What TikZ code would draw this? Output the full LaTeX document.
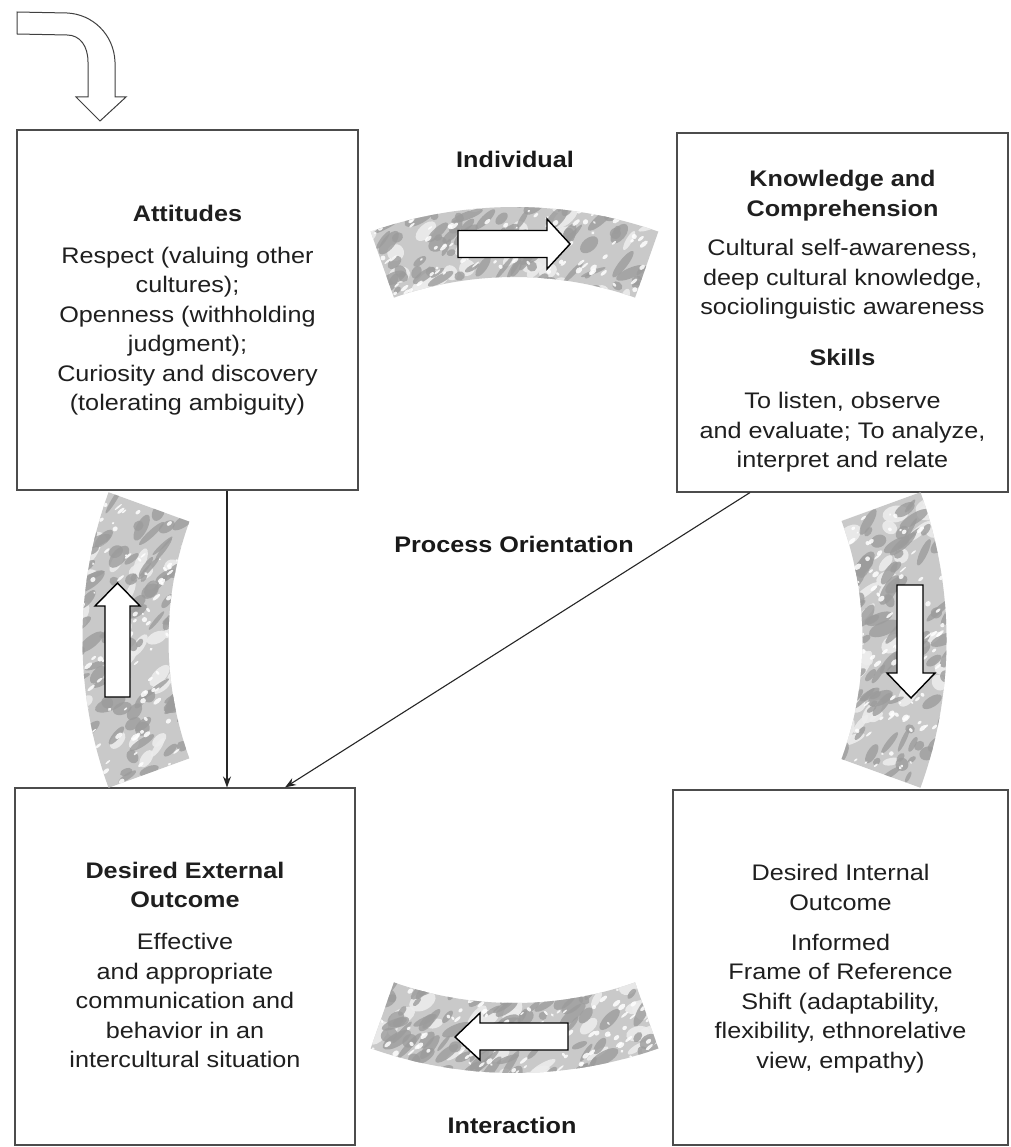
\documentclass[tikz,border=0pt]{standalone}
\usepackage{fontspec}
\setmainfont{Liberation Sans}[FakeStretch=1.12]
\usetikzlibrary{calc,arrows.meta}
\newcommand\mottleband[5]{%
  \begin{scope}
    \clip ($(C)+(#1:#4)$) arc[start angle=#1,end angle=#2,radius=#4]
      -- ($(C)+(#2:#3)$) arc[start angle=#2,end angle=#1,radius=#3] -- cycle;
    \fill[gray!42] (0,0) rectangle (1010,1147);
    \pgfmathsetseed{#5}
    \foreach \k in {1,...,28}{%
      \pgfmathsetmacro\aa{#1+rnd*(#2-#1)}%
      \pgfmathsetmacro\rr{#3-8+rnd*(#4-#3+16)}%
      \pgfmathsetmacro\bx{514.5+\rr*cos(\aa)}%
      \pgfmathsetmacro\by{640+\rr*sin(\aa)}%
      \pgfmathsetmacro\ax{6+rnd*10}%
      \pgfmathsetmacro\ay{3+rnd*6}%
      \pgfmathsetmacro\rot{10+rnd*60}%
      \fill[gray!15, opacity=0.9, rotate around={\rot:(\bx,\by)}] (\bx,\by) ellipse[x radius=\ax, y radius=\ay];
    }
    \foreach \k in {1,...,80}{%
      \pgfmathsetmacro\aa{#1+rnd*(#2-#1)}%
      \pgfmathsetmacro\rr{#3-8+rnd*(#4-#3+16)}%
      \pgfmathsetmacro\bx{514.5+\rr*cos(\aa)}%
      \pgfmathsetmacro\by{640+\rr*sin(\aa)}%
      \pgfmathsetmacro\ax{4+rnd*13}%
      \pgfmathsetmacro\ay{2+rnd*5}%
      \pgfmathsetmacro\rot{20+rnd*45}%
      \fill[gray!78, opacity=0.8, rotate around={\rot:(\bx,\by)}] (\bx,\by) ellipse[x radius=\ax, y radius=\ay];
    }
    \foreach \k in {1,...,90}{%
      \pgfmathsetmacro\aa{#1+rnd*(#2-#1)}%
      \pgfmathsetmacro\rr{#3-4+rnd*(#4-#3+8)}%
      \pgfmathsetmacro\bx{514.5+\rr*cos(\aa)}%
      \pgfmathsetmacro\by{640+\rr*sin(\aa)}%
      \pgfmathsetmacro\ax{1+rnd*4}%
      \pgfmathsetmacro\ay{0.8+rnd*1.8}%
      \fill[white, opacity=0.85, rotate around={40:(\bx,\by)}] (\bx,\by) ellipse[x radius=\ax, y radius=\ay];
    }
  \end{scope}}
\begin{document}
\begin{tikzpicture}[x=1pt,y=-1pt,
  box/.style={draw=black!70, line width=1.1pt, inner sep=0pt},
  txt/.style={align=center, font=\fontsize{22.5}{29.5}\selectfont, inner sep=0pt, text=black!88},
  lbl/.style={font=\fontsize{22.5}{29.5}\selectfont\bfseries, inner sep=0pt, anchor=base, text=black!90},
  conn/.style={draw=black!85, line width=1.1pt, -{Stealth[length=11pt,width=8pt]}},
  blockarrow/.style={draw=black, line width=1.4pt, fill=white, line join=miter}]
\fill[white] (0,0) rectangle (1010,1147);
\useasboundingbox (0,0) rectangle (1010,1147);
\coordinate (C) at (514.5,640);

% boxes
\node[box, minimum width=341pt, minimum height=360pt] (att) at (187.5,310) {};
\node[box, minimum width=331pt, minimum height=359pt] (ks) at (842.5,312.5) {};
\node[box, minimum width=340pt, minimum height=357pt] (ext) at (185,966.5) {};
\node[box, minimum width=335pt, minimum height=355pt] (intl) at (840.5,967.5) {};

% box texts
\node[txt] (attT) at (187.5,310) {\textbf{Attitudes}\\[12.5pt] Respect (valuing other\\ cultures);\\ Openness (withholding\\ judgment);\\ Curiosity and discovery\\ (tolerating ambiguity)};
\node[txt] (ksT) at (842.5,321.6) {\textbf{Knowledge and}\\ \textbf{Comprehension}\\[10pt] Cultural self-awareness,\\ deep cultural knowledge,\\ sociolinguistic awareness\\[21.5pt] \textbf{Skills}\\[13.5pt] To listen, observe\\ and evaluate; To analyze,\\ interpret and relate};
\node[txt] (extT) at (185,964.8) {\textbf{Desired External}\\ \textbf{Outcome}\\[12.5pt] Effective\\ and appropriate\\ communication and\\ behavior in an\\ intercultural situation};
\node[txt] (intlT) at (840.5,968.7) {Desired Internal\\ Outcome\\[10.5pt] Informed\\ Frame of Reference\\ Shift (adaptability,\\ flexibility, ethnorelative\\ view, empathy)};

% labels
\node[lbl] (indiv) at (515,168) {Individual};
\node[lbl] (proc) at (514,552) {Process Orientation};
\node[lbl] (inter) at (512,1133) {Interaction};

% mottled bands
\mottleband{-109.4}{-70.6}{363}{433}{11}
\mottleband{70.6}{109.4}{363}{433}{23}
\mottleband{160}{200}{346}{432}{37}
\mottleband{-20}{20}{348}{432}{51}

% block arrows in bands
\draw[blockarrow] (458,230.5) -- (547,230.5) -- (547,219) -- (570,244) -- (547,269) -- (547,257.5) -- (458,257.5) -- cycle;
\draw[blockarrow] (568,1023) -- (480,1023) -- (480,1013) -- (455,1037) -- (480,1060) -- (480,1050) -- (568,1050) -- cycle;
\draw[blockarrow] (105,697) -- (105,606) -- (95,606) -- (117.5,583) -- (140,606) -- (130,606) -- (130,697) -- cycle;
\draw[blockarrow] (897,585) -- (897,673) -- (887,673) -- (911,698) -- (935,673) -- (923,673) -- (923,585) -- cycle;

% entry arrow
\draw[draw=black!75, line width=1pt, fill=white, line join=miter]
  (17,12) -- (67,13) .. controls (92,14) and (114,34) .. (115,62) -- (115,97) -- (126,97)
  -- (100,121) -- (76,97) -- (88,97) -- (88,62) .. controls (88,46) and (80,35) .. (67,35) -- (17,34) -- cycle;

% connectors
\coordinate (vx) at (227,0);
\coordinate (dA) at (750,0);
\coordinate (dB) at (285,0);
\draw[conn] (att.south -| vx) -- (ext.north -| vx);
\draw[conn] (ks.south -| dA) -- (ext.north -| dB);
\end{tikzpicture}
\end{document}
